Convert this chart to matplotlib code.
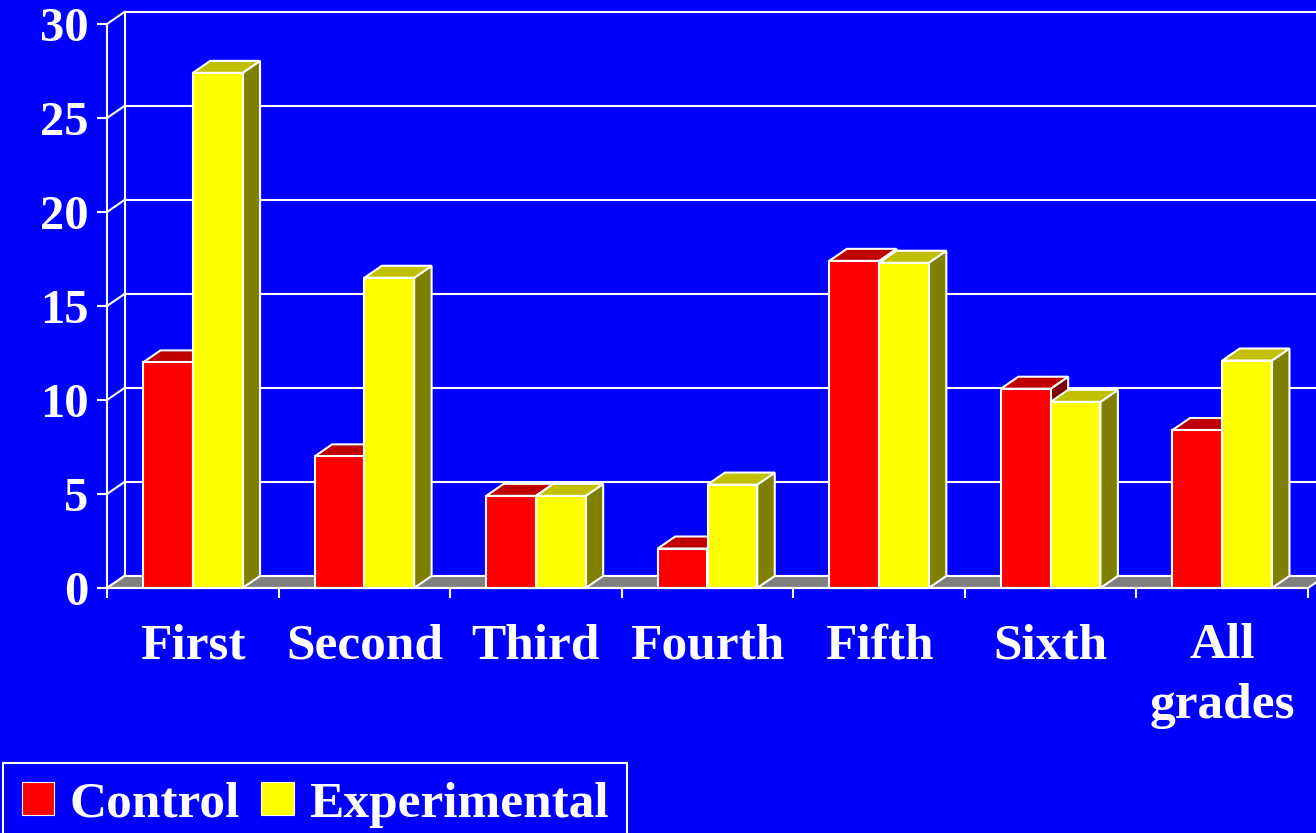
import numpy as np
import matplotlib.pyplot as plt
from matplotlib.patches import Polygon, Rectangle, Patch

plt.rcParams['font.family'] = ['Liberation Serif', 'DejaVu Serif']
plt.rcParams['font.weight'] = 'bold'

grades = ['First', 'Second', 'Third', 'Fourth', 'Fifth', 'Sixth', 'All\ngrades']
control = [12.0, 7.0, 4.9, 2.1, 17.4, 10.6, 8.4]
experimental = [27.4, 16.5, 4.9, 5.5, 17.3, 9.9, 12.1]
y_ticks = [0, 5, 10, 15, 20, 25, 30]

BG = '#0000FF'
series = [
    ('Control', control, ('#FF0000', '#C00000', '#800000')),
    ('Experimental', experimental, ('#FFFF00', '#C0C000', '#808000')),
]

fig = plt.figure(figsize=(13.16, 8.33), dpi=100, facecolor=BG)
W, H = 1316, 833
ax = fig.add_axes([107 / W, 1 - 588 / H, (1308 - 107) / W, (588 - 24) / H])
ax.set_facecolor('none')
n = len(grades)
ax.set_xlim(0, n)
ax.set_ylim(0, 30)

# depth of the pseudo-3D box, in data units
dx, dy = 0.102, 0.64
bar_w, gap = 0.29, 0.21
edge = dict(edgecolor='white', linewidth=1.5, joinstyle='miter')

# back wall: gridlines, vertical edge and the diagonal ties to the front axis
for v in y_ticks:
    if v > 0:
        ax.plot([dx, n + dx], [v + dy, v + dy], color='white', lw=1.5,
                clip_on=False, zorder=0.5)
    ax.plot([0, dx], [v, v + dy], color='white', lw=1.5, clip_on=False, zorder=0.5)
ax.plot([dx, dx], [dy, 30 + dy], color='white', lw=1.5, clip_on=False, zorder=0.5)

# floor
ax.add_patch(Polygon([(0, 0), (n, 0), (n + dx, dy), (dx, dy)], closed=True,
                     facecolor='#808080', clip_on=False, zorder=1, **edge))

z = 2
for i in range(n):
    for s, (name, vals, (c_front, c_top, c_side)) in enumerate(series):
        v = vals[i]
        x0 = i + gap + s * bar_w
        x1 = x0 + bar_w
        side = [(x1, 0), (x1 + dx, dy), (x1 + dx, v + dy), (x1, v)]
        top = [(x0, v), (x1, v), (x1 + dx, v + dy), (x0 + dx, v + dy)]
        ax.add_patch(Polygon(side, closed=True, facecolor=c_side, clip_on=False,
                             zorder=z, **edge))
        ax.add_patch(Polygon(top, closed=True, facecolor=c_top, clip_on=False,
                             zorder=z, **edge))
        ax.add_patch(Rectangle((x0, 0), bar_w, v, facecolor=c_front, clip_on=False,
                               zorder=z + 0.5, **edge))
        z += 1

for side in ['top', 'right']:
    ax.spines[side].set_visible(False)
for side in ['left', 'bottom']:
    ax.spines[side].set_color('white')
    ax.spines[side].set_linewidth(1.5)
    ax.spines[side].set_zorder(z + 1)

ax.set_yticks(y_ticks)
ax.set_yticklabels([str(t) for t in y_ticks])
ax.tick_params(axis='y', colors='white', labelsize=35, length=7.5, width=1.5, pad=6)

ax.set_xticks(np.arange(n + 1))
ax.set_xticklabels([])
ax.set_xticks(np.arange(n) + 0.5, minor=True)
ax.set_xticklabels(grades, minor=True, linespacing=1.4)
ax.tick_params(axis='x', which='major', colors='white', length=7.5, width=1.5)
ax.tick_params(axis='x', which='minor', length=0, pad=25.5, labelsize=37,
               labelcolor='white')

handles = [Patch(facecolor=c[0], edgecolor='white', linewidth=0.8, label=name)
           for name, _, c in series]
leg = fig.legend(handles=handles, loc='upper left', ncol=2,
                 bbox_to_anchor=(3 / W, 1 - 763 / H), borderaxespad=0,
                 prop={'size': 37, 'weight': 'bold'}, frameon=True, fancybox=False,
                 facecolor=BG, edgecolor='white', framealpha=1,
                 handlelength=0.64, handleheight=0.64, handletextpad=0.3,
                 columnspacing=0.4, borderpad=0.36)
leg.get_frame().set_linewidth(1.5)
for t in leg.get_texts():
    t.set_color('white')

fig.savefig('out.png', dpi=100, facecolor=BG)
